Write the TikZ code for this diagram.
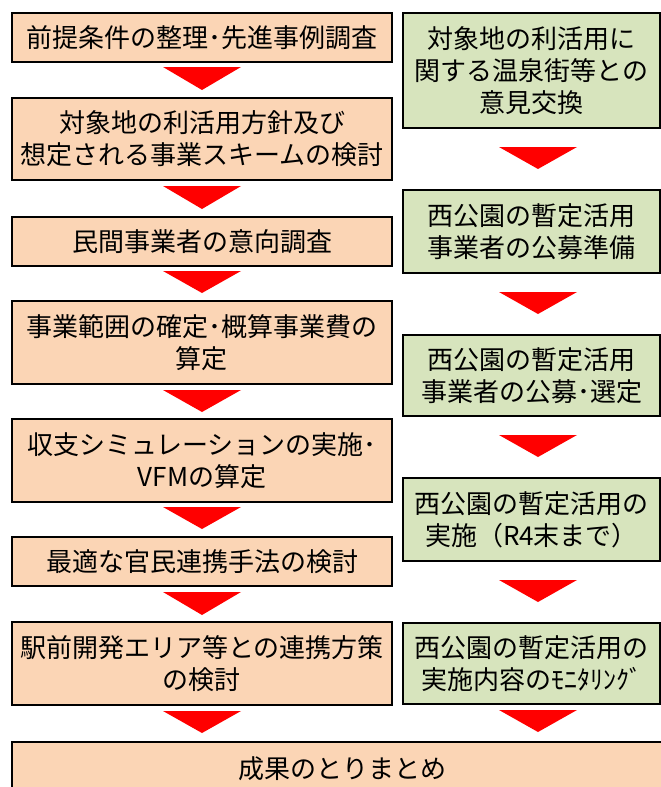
\documentclass[tikz,border=0pt]{standalone}
\usepackage{fontspec}
\setmainfont{Noto Sans CJK JP}
\definecolor{peach}{HTML}{FBD5B5}
\definecolor{olive}{HTML}{D7E4BD}
\definecolor{arrowred}{HTML}{FF0000}
\tikzset{
  base/.style={draw=black, line width=2pt, inner sep=0pt, align=center,
    font=\fontsize{26}{32}\selectfont},
  lbox/.style={base, fill=peach, minimum width=380pt},
  rbox/.style={base, fill=olive, minimum width=257pt},
  tri/.style={fill=arrowred, draw=none}
}
\newcommand{\downtri}[3]{\fill[tri] (#1-39,#2) -- (#1+39,#2) -- (#1,#2+#3) -- cycle;}
\begin{document}
\begin{tikzpicture}[x=1pt,y=-1pt]
\useasboundingbox (0,0) rectangle (661,787);
% left column
\node[lbox, minimum height=49pt] (l1) at (202,37.5) {前提条件の整理･先進事例調査};
\node[lbox, minimum height=82pt] (l2) at (202,139) {対象地の利活用方針及び\\想定される事業スキームの検討};
\node[lbox, minimum height=49pt] (l3) at (202,241.5) {民間事業者の意向調査};
\node[lbox, minimum height=83pt] (l4) at (202,342.5) {事業範囲の確定･概算事業費の\\算定};
\node[lbox, minimum height=83pt] (l5) at (202,460.5) {収支シミュレーションの実施･\\VFMの算定};
\node[lbox, minimum height=49pt] (l6) at (202,561.5) {最適な官民連携手法の検討};
\node[lbox, minimum height=83pt] (l7) at (202,663.5) {駅前開発エリア等との連携方策\\の検討};
% final
\node[base, fill=peach, minimum width=660pt, minimum height=54pt] (fin) at (342,769) {成果のとりまとめ};
% right column
\node[rbox, minimum height=115pt] (r1) at (531.5,70.5) {対象地の利活用に\\関する温泉街等との\\意見交換};
\node[rbox, minimum height=83pt] (r2) at (531.5,231.5) {西公園の暫定活用\\事業者の公募準備};
\node[rbox, minimum height=81pt] (r3) at (531.5,375.5) {西公園の暫定活用\\事業者の公募･選定};
\node[rbox, minimum height=83pt] (r4) at (531.5,519.5) {西公園の暫定活用の\\実施（R4末まで）};
\node[rbox, minimum height=81pt] (r5) at (531.5,663.5) {西公園の暫定活用の\\実施内容のﾓﾆﾀﾘﾝｸﾞ};
% left arrows
\downtri{202}{67}{23}
\downtri{202}{186}{23}
\downtri{202}{271}{22}
\downtri{202}{390}{22}
\downtri{202}{507}{22}
\downtri{202}{592}{23}
\downtri{202}{711}{22}
% right arrows
\downtri{538}{147}{22}
\downtri{538}{292}{22}
\downtri{538}{435}{22}
\downtri{538}{580}{22}
\downtri{538}{710}{22}
\end{tikzpicture}
\end{document}
